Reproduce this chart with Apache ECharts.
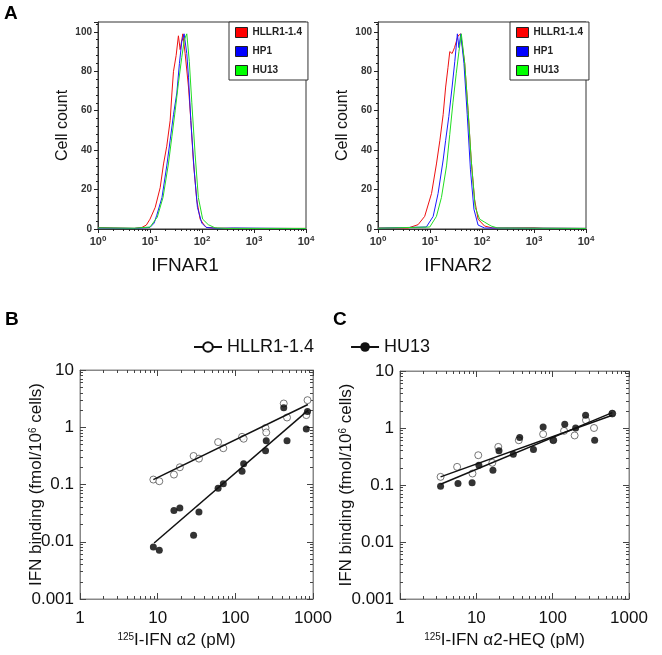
<!DOCTYPE html>
<html>
<head>
<meta charset="utf-8">
<script src="https://cdn.jsdelivr.net/npm/echarts@6/dist/echarts.min.js"></script>
<style>
  html, body { margin: 0; padding: 0; background: #fff; }
  #chart { width: 662px; height: 655px; }
</style>
</head>
<body>
<div id="chart"></div>
<script>
// ---- panel A: flow cytometry histograms, [fluorescence, cell count] ----
const cellLines = ['HLLR1-1.4', 'HP1', 'HU13'];
const lineColors = ['#ee1111', '#1a1aff', '#22dd22'];
const boxColors = ['#ff0000', '#0000ff', '#00ff00'];

const ifnar1Hllr = [[1,0.8],[2,0.5],[5,0.3],[7,0.8],[8.5,2],[10,5],[12.6,11],[15.7,21],[18.2,33],[21,42],[24.4,55],[26.4,69],[28.3,80],[31.8,88],[35.2,98],[38,91],[42.8,99],[47.4,89],[55,72],[61,55],[68,35],[79,15],[92,5],[110,2],[123,0.8],[200,0.4],[1000,0.3],[10000,0.3]];
const ifnar1Hp1 = [[1,0.5],[5,0.3],[10,0.8],[12,3],[13.5,7],[17,16],[21,32],[24.4,45],[28.3,58],[32.8,69],[36.8,84],[40.8,95],[45.3,99],[51,89],[55,77],[61,55],[70.6,30],[81.7,11],[99,3],[120,0.8],[200,0.3],[400,0.5],[10000,0.2]];
const ifnar1Hu13 = [[1,0.6],[5,0.4],[10,1],[13.8,6],[17.8,16],[22.6,33],[26.4,47],[30.5,60],[35.2,74],[40.8,87],[45.7,96],[51,99],[57,85],[63.7,64],[73.7,38],[85,16],[103,5],[132,2.2],[178,0.6],[300,0.3],[10000,0.3]];

const ifnar2Hllr = [[1,0.5],[3.8,0.5],[5.9,2.2],[7.9,6.4],[10.7,18],[13.3,33],[15.5,45],[17.9,58],[20,72],[22.2,82],[24,90],[26.6,89],[29.6,92],[34.6,98],[39,99],[46.5,84],[54,60],[62,35],[72,15],[84,5],[112,1.5],[160,0.5],[1000,0.6],[1500,0.4],[10000,0.3]];
const ifnar2Hp1 = [[1,0.4],[8.5,1],[11.5,6.4],[14.3,18],[17.9,35],[20,45],[23,57],[26.6,72],[30,85],[33.6,99],[36,92],[39,99],[45,84],[52,58],[60,30],[70,10],[84,2],[112,0.5],[10000,0.3]];
const ifnar2Hu13 = [[1,0.4],[9.9,1],[13.3,6.4],[16.6,16],[20.8,32],[24,48],[27.6,64],[32,79],[36,90],[40,99],[46.5,84],[54,60],[62,35],[74,11],[90,5],[112,3.5],[150,1.5],[200,0.5],[10000,0.3]];

// ---- panel B: 125I-IFN a2 binding (pM -> fmol/10^6 cells) ----
const bDose = [8.8, 10.5, 16.2, 19.3, 29, 34, 60, 70, 122, 128, 245, 250, 420, 463, 820, 850];
const bHllr = [0.122, 0.114, 0.149, 0.2, 0.315, 0.283, 0.55, 0.43, 0.68, 0.63, 0.97, 0.81, 2.6, 1.48, 1.63, 2.97];
const bHu13 = [0.0081, 0.0071, 0.035, 0.039, 0.013, 0.033, 0.086, 0.103, 0.17, 0.23, 0.39, 0.58, 2.2, 0.58, 0.93, 1.88];
const bHllrFit = [[8.8, 0.122], [860, 2.5]];
const bHu13Fit = [[9, 0.0095], [870, 1.99]];

// ---- panel C: 125I-IFN a2-HEQ binding ----
const cDoseHllr = [3.4, 5.6, 8.9, 10.6, 16.2, 19.4, 36, 75, 102, 141, 194, 273, 348, 604];
const cHllr = [0.139, 0.208, 0.159, 0.333, 0.245, 0.466, 0.61, 0.78, 0.61, 0.89, 0.74, 1.37, 1.0, 1.79];
const cDoseHu13 = [3.4, 5.75, 8.8, 10.8, 16.5, 19.8, 30.5, 37, 56, 75, 102, 144, 200, 270, 355, 604];
const cHu13 = [0.095, 0.106, 0.109, 0.222, 0.182, 0.397, 0.347, 0.68, 0.42, 1.04, 0.61, 1.16, 1.0, 1.67, 0.61, 1.79];
const cHllrFit = [[3.4, 0.139], [604, 1.67]];
const cHu13Fit = [[3.4, 0.103], [604, 1.86]];

const FONT = 'Liberation Sans, Arial, sans-serif';
const pair = (xs, ys) => xs.map((x, i) => [x, ys[i]]);
const supRich = (size) => ({ s: { fontSize: size, fontFamily: FONT, color: '#111', verticalAlign: 'top', padding: [0, 0, size * 0.6, 0] } });
const TICK = '#444';

const myChart = echarts.init(document.getElementById('chart'));

// histogram axes
function histX(gridIndex, name, shift) {
  return {
    gridIndex, type: 'log', min: 1, max: 10000,
    name, nameLocation: 'middle', nameGap: 27,
    nameTextStyle: { fontSize: 19, color: '#111', fontFamily: FONT, padding: [0, shift * 2, 0, 0] },
    axisLine: { show: true, lineStyle: { color: '#333' } },
    axisTick: { show: true, length: 4, lineStyle: { color: '#222', width: 1 } },
    minorTick: { show: true, splitNumber: 9, length: 2, lineStyle: { color: '#222', width: 1 } },
    splitLine: { show: false },
    axisLabel: {
      margin: 6, color: '#333', fontSize: 11, fontWeight: 'bold', fontFamily: FONT,
      formatter: (v) => '10{s|' + Math.round(Math.log10(v)) + '}',
      rich: { s: { fontSize: 8, fontWeight: 'bold', color: '#333', fontFamily: FONT, verticalAlign: 'top', padding: [0, 0, 5, 0] } }
    }
  };
}
function histY(gridIndex) {
  return {
    gridIndex, type: 'value', min: 0, max: 105, interval: 20,
    name: 'Cell count', nameLocation: 'middle', nameGap: 27,
    nameTextStyle: { fontSize: 16, color: '#111', fontFamily: FONT },
    axisLine: { show: true, lineStyle: { color: '#333' } },
    axisTick: { show: true, length: 4, lineStyle: { color: '#222', width: 1 } },
    minorTick: { show: true, splitNumber: 5, length: 2, lineStyle: { color: '#222', width: 1 } },
    splitLine: { show: false },
    axisLabel: {
      margin: 6, color: '#333', fontSize: 10, fontWeight: 'bold', fontFamily: FONT,
      formatter: (v) => (v % 20 === 0 ? String(v) : '')
    }
  };
}
// binding plot axes: main axis carries labels, mirror axis only inward ticks
function bindX(gridIndex, name, shift, mirror) {
  return {
    gridIndex, type: 'log', min: 1, max: 1000,
    position: mirror ? 'top' : 'bottom',
    name: mirror ? '' : name, nameLocation: 'middle', nameGap: 33, nameMoveOverlap: false,
    nameTextStyle: { fontSize: 17, color: '#111', fontFamily: FONT, padding: [0, shift * 2, 0, 0], rich: supRich(10) },
    axisLine: { show: true, lineStyle: { color: '#888' } },
    axisTick: { show: true, inside: true, length: 6, lineStyle: { color: TICK, width: 1 } },
    minorTick: { show: true, splitNumber: 9, length: 3, lineStyle: { color: TICK, width: 1 } },
    splitLine: { show: false },
    axisLabel: { show: !mirror, margin: 11, color: '#111', fontSize: 17, fontFamily: FONT, formatter: (v) => String(v) }
  };
}
function bindY(gridIndex, gap, mirror) {
  return {
    gridIndex, type: 'log', min: 0.001, max: 10,
    position: mirror ? 'right' : 'left',
    name: mirror ? '' : 'IFN binding (fmol/10{s|6} cells)', nameLocation: 'middle', nameGap: gap, nameMoveOverlap: false,
    nameTextStyle: { fontSize: 17, color: '#111', fontFamily: FONT, rich: supRich(10) },
    axisLine: { show: true, lineStyle: { color: '#888' } },
    axisTick: { show: true, inside: true, length: 6, lineStyle: { color: TICK, width: 1 } },
    minorTick: { show: true, splitNumber: 9, length: 3, lineStyle: { color: TICK, width: 1 } },
    splitLine: { show: false },
    axisLabel: { show: !mirror, margin: 6, color: '#111', fontSize: 17, fontFamily: FONT, formatter: (v) => String(v) }
  };
}

function histSeries(name, data, k, axis) {
  return {
    name, type: 'line', data, xAxisIndex: axis, yAxisIndex: axis,
    showSymbol: false, symbol: 'none', silent: true,
    lineStyle: { color: lineColors[k], width: 1 }, itemStyle: { color: lineColors[k] }
  };
}
function fitSeries(name, data, axis, empty) {
  return {
    name, type: 'line', data, xAxisIndex: axis, yAxisIndex: axis, z: 3,
    symbol: empty ? 'emptyCircle' : 'circle', symbolSize: 9, showSymbol: false,
    lineStyle: { color: '#111', width: 1.5 }, itemStyle: { color: '#111' }
  };
}
function dotSeries(name, data, axis, empty) {
  return {
    name, type: 'scatter', data, xAxisIndex: axis, yAxisIndex: axis,
    symbol: 'circle', symbolSize: 7,
    itemStyle: empty ? { color: '#fff', borderColor: '#555', borderWidth: 1 } : { color: '#000' }
  };
}

const histLegend = (left) => ({
  orient: 'vertical', left, top: 22, itemWidth: 12, itemHeight: 10, itemGap: 8,
  padding: [5, 6, 4, 6], borderColor: '#333', borderWidth: 1, backgroundColor: '#fff',
  selectedMode: false,
  textStyle: { fontSize: 10, fontWeight: 'bold', color: '#222', fontFamily: FONT },
  data: cellLines.map((n, k) => ({ name: n, icon: 'rect', itemStyle: { color: boxColors[k], borderColor: '#222', borderWidth: 1 } }))
});

const options = {
  animation: false,
  backgroundColor: '#fff',
  title: [
    { text: 'A', left: 4, top: 4, padding: 0, textStyle: { fontSize: 19, fontWeight: 'bold', color: '#000', fontFamily: FONT } },
    { text: 'B', left: 5, top: 310, padding: 0, textStyle: { fontSize: 19, fontWeight: 'bold', color: '#000', fontFamily: FONT } },
    { text: 'C', left: 333, top: 310, padding: 0, textStyle: { fontSize: 19, fontWeight: 'bold', color: '#000', fontFamily: FONT } }
  ],
  legend: [
    {
      left: 188, top: 333, itemWidth: 28, itemHeight: 12, itemGap: 36, selectedMode: false,
      textStyle: { fontSize: 18, color: '#111', fontFamily: FONT },
      data: ['HLLR1-1.4', 'HU13']
    },
    histLegend(229),
    histLegend(510)
  ],
  grid: [
    { left: 98, top: 22, width: 208, height: 207, show: true, borderColor: '#333', borderWidth: 1, outerBoundsMode: 'none' },
    { left: 378, top: 22, width: 208, height: 207, show: true, borderColor: '#333', borderWidth: 1, outerBoundsMode: 'none' },
    { left: 80, top: 370, width: 233, height: 229, show: true, borderColor: '#888', borderWidth: 1, outerBoundsMode: 'none' },
    { left: 400, top: 371, width: 229, height: 228, show: true, borderColor: '#888', borderWidth: 1, outerBoundsMode: 'none' }
  ],
  xAxis: [
    histX(0, 'IFNAR1', 17),
    histX(1, 'IFNAR2', 24),
    bindX(2, '{s|125}I-IFN α2 (pM)', 20, false),
    bindX(2, '', 0, true),
    bindX(3, '{s|125}I-IFN α2-HEQ (pM)', 10, false),
    bindX(3, '', 0, true)
  ],
  yAxis: [
    histY(0),
    histY(1),
    bindY(2, 35, false),
    bindY(2, 0, true),
    bindY(3, 45, false),
    bindY(3, 0, true)
  ],
  series: [
    // fit lines first so the B/C legend takes its icons from them
    fitSeries('HLLR1-1.4', bHllrFit, 2, true),
    fitSeries('HU13', bHu13Fit, 2, false),
    fitSeries('HLLR1-1.4', cHllrFit, 4, true),
    fitSeries('HU13', cHu13Fit, 4, false),
    dotSeries('HLLR1-1.4', pair(bDose, bHllr), 2, true),
    dotSeries('HU13', pair(bDose, bHu13), 2, false),
    dotSeries('HLLR1-1.4', pair(cDoseHllr, cHllr), 4, true),
    dotSeries('HU13', pair(cDoseHu13, cHu13), 4, false),
    histSeries('HLLR1-1.4', ifnar1Hllr, 0, 0),
    histSeries('HP1', ifnar1Hp1, 1, 0),
    histSeries('HU13', ifnar1Hu13, 2, 0),
    histSeries('HLLR1-1.4', ifnar2Hllr, 0, 1),
    histSeries('HP1', ifnar2Hp1, 1, 1),
    histSeries('HU13', ifnar2Hu13, 2, 1)
  ]
};
myChart.setOption(options);
</script>
</body>
</html>
